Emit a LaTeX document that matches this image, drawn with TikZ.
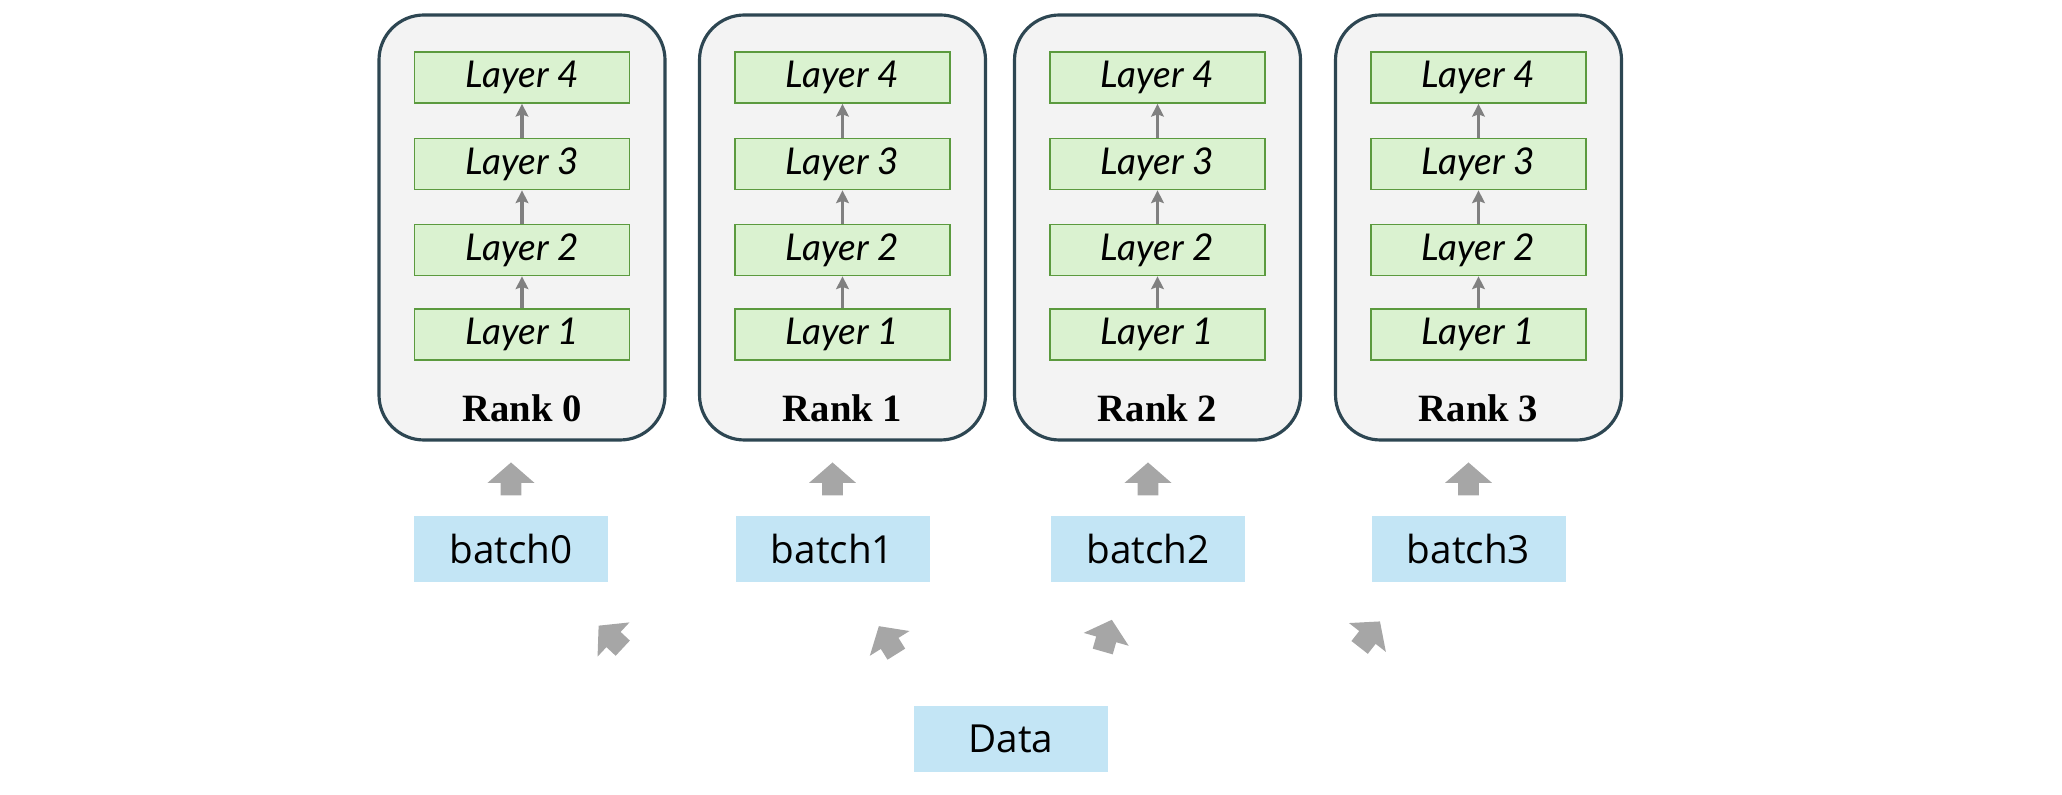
\documentclass[tikz,border=0pt]{standalone}
\usepackage{fontspec}
\setmainfont{Liberation Serif}
\newfontfamily\batchfont{Open Sans}
\newfontfamily\layerfont{Lato}
\usetikzlibrary{arrows, arrows.meta, shapes.arrows, positioning}
\tikzset{>=stealth}
\definecolor{rankfill}{HTML}{F3F3F3}
\definecolor{rankdraw}{HTML}{2D4652}
\definecolor{layerfill}{HTML}{DAF2D0}
\definecolor{layerdraw}{HTML}{5B9A3E}
\definecolor{batchfill}{HTML}{C3E5F5}
\definecolor{arrowgray}{HTML}{A6A6A6}
\tikzset{
  rankbox/.style={draw=rankdraw, fill=rankfill, line width=0.9pt, rounded corners=0.45cm,
    minimum width=2.86cm, minimum height=4.25cm},
  layer/.style={draw=layerdraw, fill=layerfill, line width=0.5pt, minimum width=2.15cm,
    minimum height=0.51cm, inner sep=0pt, font=\layerfont\itshape\fontsize{10.5}{12}\selectfont},
  ranklabel/.style={font=\bfseries\fontsize{11}{13}\selectfont},
  batchbox/.style={fill=batchfill, minimum width=1.94cm, minimum height=0.66cm,
    font=\batchfont\fontsize{11}{13}\selectfont},
  fatarrow/.style={single arrow, fill=arrowgray, draw=none, inner sep=0pt, inner ysep=0.09cm,
    minimum width=0pt, minimum height=0.33cm, single arrow head extend=0.13cm,
    single arrow tip angle=98},
  lyrarrow/.style={-{Stealth[length=3.6pt, width=3.6pt, inset=0.6pt]}, draw=gray, line width=1pt}
}
\begin{document}
\begin{tikzpicture}[>=stealth, thick]
		\useasboundingbox (0,0) rectangle (20.62,7.94);
		\foreach \i/\x/\bx/\a/\ax/\ay in {0/5.22/5.11/137/6.14/1.54, 1/8.425/8.325/122/8.90/1.50,
		  2/11.575/11.48/74/11.06/1.54, 3/14.785/14.685/52/13.67/1.56}{
		  \node[rankbox] (R\i) at (\x,5.665) {};
		  \node[layer] (L\i4) at (\x,7.165) {Layer 4};
		  \node[layer] (L\i3) at (\x,6.30) {Layer 3};
		  \node[layer] (L\i2) at (\x,5.44) {Layer 2};
		  \node[layer] (L\i1) at (\x,4.595) {Layer 1};
		  \draw [lyrarrow](L\i1)--(L\i2); \draw [lyrarrow](L\i2)--(L\i3); \draw [lyrarrow](L\i3)--(L\i4);
		  \node[ranklabel] (N\i) at (\x,3.86) {Rank \i};
		  \node[fatarrow, rotate=90] (U\i) at (\bx,3.105) {};
		  \node[batchbox] (B\i) at (\bx,2.45) {batch\i};
		  \node[fatarrow, rotate=\a] (A\i) at (\ax,\ay) {};
		}
		\node[batchbox] (D) at (10.11,0.55) {Data};
		\end{tikzpicture}
\end{document}
